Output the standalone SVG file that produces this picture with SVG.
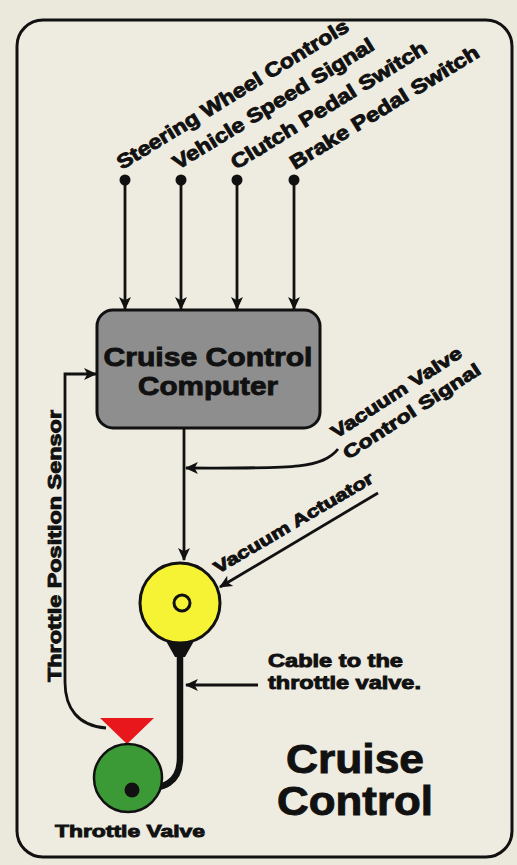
<svg xmlns="http://www.w3.org/2000/svg" width="517" height="865" viewBox="0 0 517 865">
<style>
.t{font-family:"Liberation Sans",Arial,sans-serif;font-weight:bold;fill:#111;stroke:#111;stroke-width:0.9}
.ln{fill:none;stroke:#111;stroke-width:2.8}
</style>
<defs>
<marker id="ah" viewBox="0 0 12 12" refX="11" refY="6" markerWidth="13" markerHeight="13" orient="auto" markerUnits="userSpaceOnUse">
<path d="M0,0.5 L12,6 L0,11.5 L3,6 z" fill="#111"/>
</marker>
</defs>
<rect x="0" y="0" width="517" height="865" fill="#ebe8dc"/>
<rect id="frame" x="17" y="20" width="495" height="837" rx="26" fill="#eeebe0" stroke="#111" stroke-width="3"/>

<g id="labels-top">
<circle cx="125" cy="180" r="5.5" fill="#111"/>
<circle cx="181" cy="180" r="5.5" fill="#111"/>
<circle cx="237" cy="180" r="5.5" fill="#111"/>
<circle cx="294" cy="180" r="5.5" fill="#111"/>
<text class="t" font-size="20" transform="translate(122,170) rotate(-31.5)" textLength="268" lengthAdjust="spacingAndGlyphs">Steering Wheel Controls</text>
<text class="t" font-size="20" transform="translate(178,170) rotate(-31.5)" textLength="232" lengthAdjust="spacingAndGlyphs">Vehicle Speed Signal</text>
<text class="t" font-size="20" transform="translate(236,170) rotate(-31.5)" textLength="226" lengthAdjust="spacingAndGlyphs">Clutch Pedal Switch</text>
<text class="t" font-size="20" transform="translate(295,170) rotate(-31.5)" textLength="218" lengthAdjust="spacingAndGlyphs">Brake Pedal Switch</text>
</g>

<g id="connectors">
<line class="ln" x1="125" y1="180" x2="125" y2="309" marker-end="url(#ah)"/>
<line class="ln" x1="181" y1="180" x2="181" y2="309" marker-end="url(#ah)"/>
<line class="ln" x1="237" y1="180" x2="237" y2="309" marker-end="url(#ah)"/>
<line class="ln" x1="294" y1="180" x2="294" y2="309" marker-end="url(#ah)"/>
<line class="ln" x1="184" y1="428" x2="184" y2="560" marker-end="url(#ah)"/>
<path class="ln" d="M338,449 C322,470 285,468 186,468" marker-end="url(#ah)"/>
<line class="ln" x1="378" y1="493" x2="220" y2="587" marker-end="url(#ah)"/>
<path class="ln" d="M106,728 C78,726 65,708 65,682 L65,374 L96,374" marker-end="url(#ah)"/>
<line class="ln" x1="258" y1="685" x2="186" y2="685" marker-end="url(#ah)"/>
<path d="M166,641 L194,641 L185,657 L175,657 z" fill="#111"/>
<path d="M180,650 L180,758 C180,782 166,790 132,790" fill="none" stroke="#111" stroke-width="6.5"/>
</g>

<g id="computer">
<rect x="97" y="310" width="223" height="118" rx="16" fill="#8e8e8e" stroke="#111" stroke-width="3"/>
<text class="t" font-size="26" x="208" y="366" text-anchor="middle" stroke-width="1.1" textLength="209" lengthAdjust="spacingAndGlyphs">Cruise Control</text>
<text class="t" font-size="26" x="208" y="395" text-anchor="middle" stroke-width="1.1" textLength="140" lengthAdjust="spacingAndGlyphs">Computer</text>
</g>

<g id="vacuum-valve-label">
<text class="t" font-size="18" transform="translate(336,439) rotate(-33)" textLength="152" lengthAdjust="spacingAndGlyphs">Vacuum Valve</text>
<text class="t" font-size="18" transform="translate(348,460) rotate(-33)" textLength="160" lengthAdjust="spacingAndGlyphs">Control Signal</text>
</g>

<g id="vacuum-actuator">
<circle cx="180" cy="603" r="40" fill="#f6f234" stroke="#111" stroke-width="3"/>
<circle cx="182" cy="603" r="8" fill="#f6f234" stroke="#111" stroke-width="3"/>
<text class="t" font-size="17" transform="translate(218,574) rotate(-30.5)" textLength="182" lengthAdjust="spacingAndGlyphs">Vacuum Actuator</text>
</g>

<g id="throttle-sensor">
<text class="t" font-size="18" transform="translate(61,682) rotate(-90)" textLength="272" lengthAdjust="spacingAndGlyphs">Throttle Position Sensor</text>
<polygon points="100,718 154,718 127,744" fill="#e8171c"/>
</g>

<g id="throttle-valve">
<circle cx="128" cy="778" r="34" fill="#3c9a36" stroke="#111" stroke-width="2.5"/>
<circle cx="132" cy="790" r="7.5" fill="#111"/>
<text class="t" font-size="17" x="130" y="837" text-anchor="middle" textLength="150" lengthAdjust="spacingAndGlyphs">Throttle Valve</text>
</g>

<g id="cable-label">
<text class="t" font-size="18" x="268" y="667" textLength="135" lengthAdjust="spacingAndGlyphs">Cable to the</text>
<text class="t" font-size="18" x="268" y="689" textLength="153" lengthAdjust="spacingAndGlyphs">throttle valve.</text>
</g>

<g id="title">
<text class="t" font-size="40" x="355" y="773" text-anchor="middle" stroke-width="1.6" textLength="138" lengthAdjust="spacingAndGlyphs">Cruise</text>
<text class="t" font-size="40" x="355" y="815" text-anchor="middle" stroke-width="1.6" textLength="156" lengthAdjust="spacingAndGlyphs">Control</text>
</g>
</svg>
